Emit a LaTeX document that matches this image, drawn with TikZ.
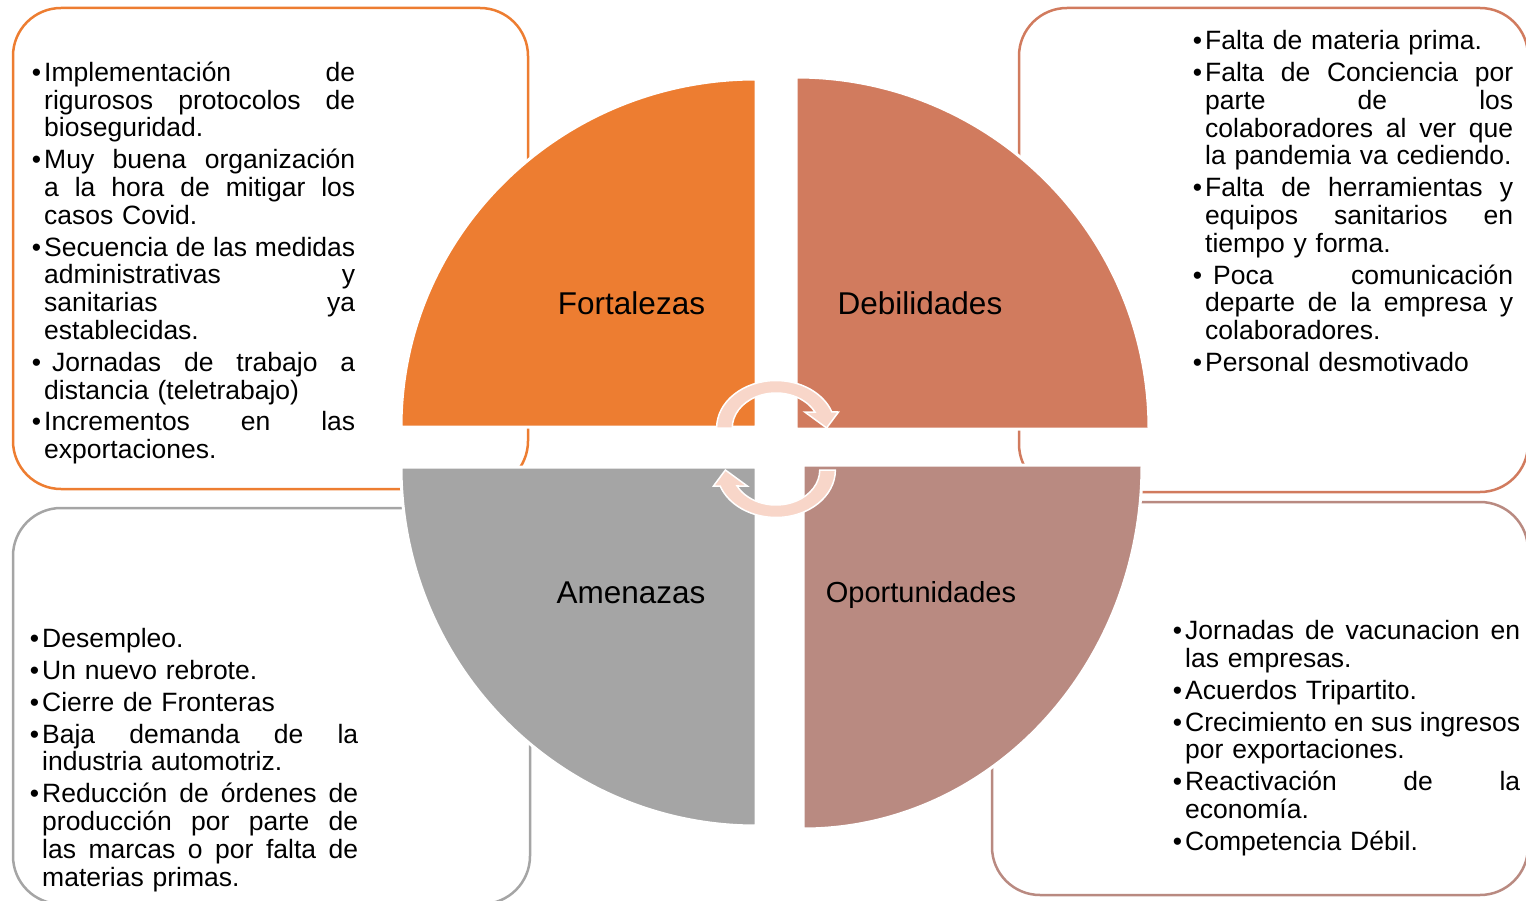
\documentclass[tikz,border=0pt]{standalone}
\usepackage{fontspec}
\setmainfont{Liberation Sans}
\lineskiplimit=-100pt
\lineskip=0pt
\setlength\parindent{0pt}
\definecolor{cF}{HTML}{ED7D31}
\definecolor{cD}{HTML}{D17B5E}
\definecolor{cA}{HTML}{A5A5A5}
\definecolor{cO}{HTML}{B98A81}
\definecolor{cArr}{HTML}{F8D6C9}
\newlength\bw
\newcommand\jl[1]{\hbox to \bw{\spaceskip=7.3pt plus 1fil\relax #1}\par}
\newcommand\nl[1]{#1\par}
\newcommand\bul{\leavevmode\llap{•\hspace{3pt}}}
\newcommand\fst{\rule{0pt}{26pt}}
\newcommand\isep{\vspace{4pt}}
\tikzset{
  box/.style={draw, line width=2.5pt, rounded corners=48pt, inner sep=0pt, outer sep=0pt, fill=none},
  quad/.style={draw=white, line width=3pt},
  lab/.style={inner sep=0pt, anchor=base, font=\fontsize{31.5}{36}\selectfont},
  txt/.style={inner sep=0pt, anchor=north west, font=\fontsize{26.5}{27.8}\selectfont, text width=#1},
  arr/.style={fill=cArr, draw=white, line width=1.5pt, line join=miter}
}
\begin{document}
\begin{tikzpicture}[x=1pt, y=-1pt]
\useasboundingbox (0,0) rectangle (1526,901);
% boxes
\node[box, draw=cF, minimum width=515pt, minimum height=481pt] (tlbox) at (270.5,248.5) {};
\node[box, draw=cD, minimum width=509pt, minimum height=484pt] (trbox) at (1273.5,250) {};
\node[box, draw=cA, minimum width=517pt, minimum height=396pt] (blbox) at (271.5,706) {};
\node[box, draw=cO, minimum width=536pt, minimum height=393pt] (brbox) at (1260,698.5) {};
% quadrants
\path[quad, fill=cF] (756,427) -- ++(-355,0) arc[start angle=180, end angle=270, x radius=355, y radius=348] -- cycle;
\path[quad, fill=cD] (796,429) -- ++(0,-352) arc[start angle=270, end angle=360, x radius=353, y radius=352] -- cycle;
\path[quad, fill=cO] (803,465) -- ++(339,0) arc[start angle=0, end angle=90, x radius=339, y radius=364] -- cycle;
\path[quad, fill=cA] (756,467) -- ++(0,359) arc[start angle=90, end angle=180, x radius=355, y radius=359] -- cycle;
% labels
\node[lab] (fort) at (631.5,315) {Fortalezas};
\node[lab] (debi) at (920,315) {Debilidades};
\node[lab] (amen) at (631,603) {Amenazas};
\node[lab, font=\fontsize{29}{34}\selectfont] (opor) at (921,602) {Oportunidades};
% cycle arrows
\begin{scope}[shift={(776,428)}, xscale=1.25]
\path[arr] (180:47.5) arc[start angle=180, end angle=340.3, radius=47.5] -- (50,-16) -- (40.5,0) -- (23,-16) -- (332.8:35) arc[start angle=332.8, end angle=180, radius=35] -- cycle;
\end{scope}
\begin{scope}[shift={(776,470)}, xscale=1.25, rotate=180]
\path[arr] (180:47.5) arc[start angle=180, end angle=340.3, radius=47.5] -- (50,-16) -- (40.5,0) -- (23,-16) -- (332.8:35) arc[start angle=332.8, end angle=180, radius=35] -- cycle;
\end{scope}
% texts
\node[txt=311pt] (tltext) at (44,55.2) {%
\setlength\bw{311pt}%
\jl{\bul\fst Implementación de}
\jl{rigurosos protocolos de}
\nl{bioseguridad.}
\isep
\jl{\bul Muy buena organización}
\jl{a la hora de mitigar los}
\nl{casos Covid.}
\isep
\jl{\bul Secuencia de las medidas}
\jl{administrativas y}
\jl{sanitarias ya}
\nl{establecidas.}
\isep
\jl{\bul\hspace{8pt}Jornadas de trabajo a}
\nl{distancia (teletrabajo)}
\isep
\jl{\bul Incrementos en las}
\nl{exportaciones.}};
\node[txt=308pt] (trtext) at (1205,23.5) {%
\setlength\bw{308pt}%
\nl{\bul\fst Falta de materia prima.}
\isep
\jl{\bul Falta de Conciencia por}
\jl{parte de los}
\jl{colaboradores al ver que}
\nl{la pandemia va cediendo.}
\isep
\jl{\bul Falta de herramientas y}
\jl{equipos sanitarios en}
\nl{tiempo y forma.}
\isep
\jl{\bul\hspace{8pt}Poca comunicación}
\jl{departe de la empresa y}
\nl{colaboradores.}
\isep
\nl{\bul Personal desmotivado}};
\node[txt=316pt] (bltext) at (42,621.5) {%
\setlength\bw{316pt}%
\nl{\bul\fst Desempleo.}
\isep
\nl{\bul Un nuevo rebrote.}
\isep
\nl{\bul Cierre de Fronteras}
\isep
\jl{\bul Baja demanda de la}
\nl{industria automotriz.}
\isep
\jl{\bul Reducción de órdenes de}
\jl{producción por parte de}
\jl{las marcas o por falta de}
\nl{materias primas.}};
\node[txt=335pt] (brtext) at (1185,613.5) {%
\setlength\bw{335pt}%
\jl{\bul\fst Jornadas de vacunacion en}
\nl{las empresas.}
\isep
\nl{\bul Acuerdos Tripartito.}
\isep
\jl{\bul Crecimiento en sus ingresos}
\nl{por exportaciones.}
\isep
\jl{\bul Reactivación de la}
\nl{economía.}
\isep
\nl{\bul Competencia Débil.}};
\end{tikzpicture}
\end{document}
